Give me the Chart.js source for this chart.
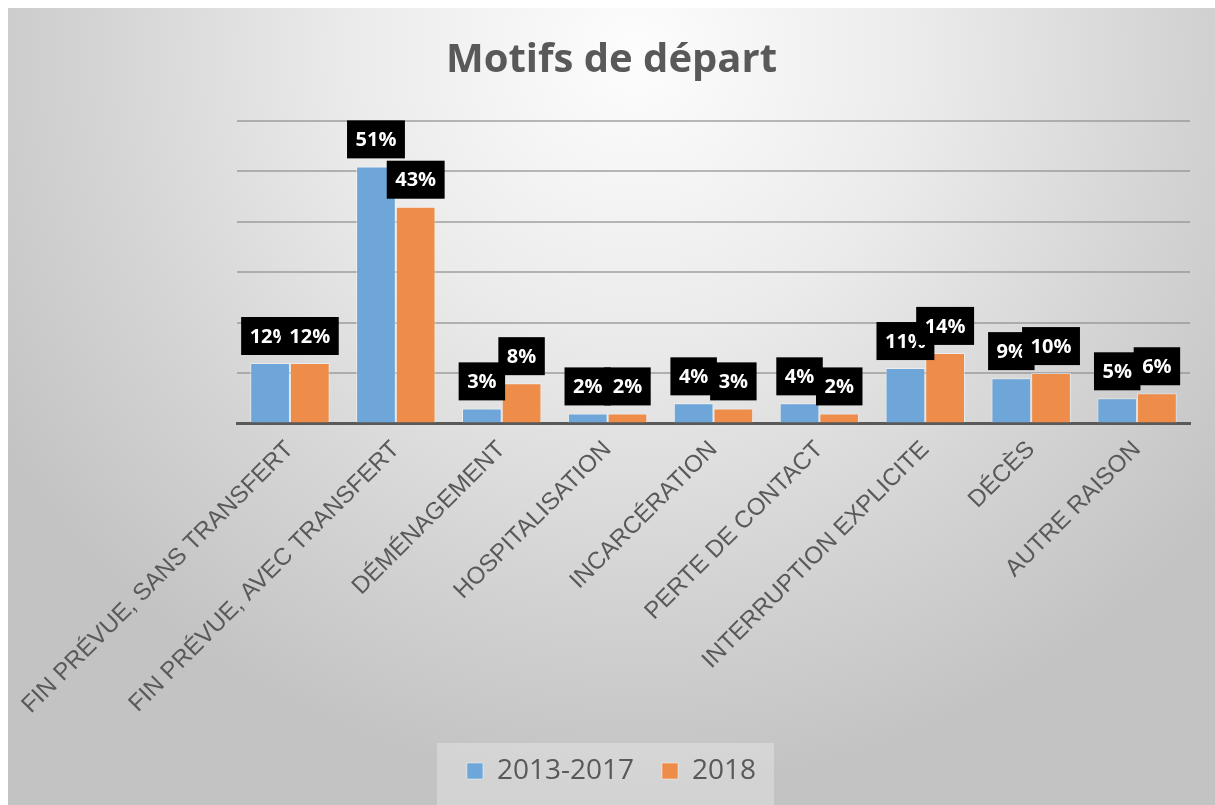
<!DOCTYPE html>
<html>
<head>
<meta charset="utf-8">
<script src="https://cdn.jsdelivr.net/npm/chart.js@4.4.1/dist/chart.umd.min.js"></script>
<style>
  html, body { margin: 0; padding: 0; background: #ffffff; }
  #wrap {
    position: absolute; left: 8px; top: 8px; width: 1207px; height: 797px;
    background: radial-gradient(ellipse 62% 92% at 52% 6%, #fdfdfd 0%, #ebebeb 38%, #d4d4d4 72%, #c3c3c3 100%);
  }
</style>
</head>
<body>
<div id="wrap"><canvas id="motifsChart" width="1207" height="797"></canvas></div>
<script>
// categories and values (percent)
var motifs = [
  'FIN PRÉVUE, SANS TRANSFERT',
  'FIN PRÉVUE, AVEC TRANSFERT',
  'DÉMÉNAGEMENT',
  'HOSPITALISATION',
  'INCARCÉRATION',
  'PERTE DE CONTACT',
  'INTERRUPTION EXPLICITE',
  'DÉCÈS',
  'AUTRE RAISON'
];
var periode20132017 = [12, 51, 3, 2, 4, 4, 11, 9, 5];
var annee2018 = [12, 43, 8, 2, 3, 2, 14, 10, 6];
var yTicks = [0, 10, 20, 30, 40, 50, 60];

// grey panel behind the legend
var legendBackground = {
  id: 'legendBackground',
  beforeDraw: function(chart) {
    var boxes = chart.legend.legendHitBoxes;
    if (!boxes || !boxes.length) return;
    var ctx = chart.ctx;
    var first = boxes[0], last = boxes[boxes.length - 1];
    var midY = first.top + first.height / 2;
    ctx.save();
    ctx.fillStyle = 'rgba(255,255,255,0.28)';
    ctx.fillRect(first.left - 30, midY - 28, (last.left + last.width) - first.left + 48, chart.height - midY + 28);
    ctx.restore();
  }
};

// black boxes with the percentages
var valueBoxes = {
  id: 'valueBoxes',
  afterDatasetsDraw: function(chart) {
    var ctx = chart.ctx;
    ctx.save();
    ctx.font = 'bold 20px "Open Sans"';
    ctx.textAlign = 'center';
    ctx.textBaseline = 'middle';
    chart.data.datasets.forEach(function(ds, i) {
      chart.getDatasetMeta(i).data.forEach(function(bar, j) {
        var txt = ds.data[j] + '%';
        var w = ctx.measureText(txt).width + 17;
        var h = 38;
        var bottom = bar.y - 8;
        ctx.fillStyle = '#000000';
        ctx.fillRect(bar.x - w / 2, bottom - h, w, h);
        ctx.fillStyle = '#ffffff';
        ctx.fillText(txt, bar.x, bottom - h / 2 + 1);
      });
    });
    ctx.restore();
  }
};

var motifsChart = new Chart(document.getElementById('motifsChart'), {
  type: 'bar',
  data: {
    labels: motifs,
    datasets: [{
      label: '2013-2017',
      data: periode20132017,
      backgroundColor: '#6fa6da',
      borderColor: 'rgba(255,255,255,0.45)',
      borderWidth: 1
    }, {
      label: '2018',
      data: annee2018,
      backgroundColor: '#ee8c49',
      borderColor: 'rgba(255,255,255,0.45)',
      borderWidth: 1
    }]
  },
  options: {
    responsive: false,
    animation: false,
    layout: {
      padding: { left: 0, right: 0, top: 0, bottom: 10 }
    },
    datasets: {
      bar: { categoryPercentage: 0.75, barPercentage: 1.0 }
    },
    plugins: {
      title: {
        display: true,
        text: 'Motifs de départ',
        color: '#595959',
        font: { family: '"Open Sans"', size: 40, weight: 'bold' },
        padding: { top: 29, bottom: 36 }
      },
      legend: {
        position: 'bottom',
        labels: {
          color: '#595959',
          font: { family: '"Open Sans"', size: 28 },
          boxWidth: 16,
          boxHeight: 16,
          padding: 28
        }
      },
      tooltip: { enabled: false }
    },
    scales: {
      x: {
        grid: { display: false },
        border: { display: true, color: '#595959', width: 3 },
        ticks: {
          color: '#595959',
          font: { family: '"Liberation Sans"', size: 24 },
          minRotation: 45,
          maxRotation: 45,
          padding: 4
        },
        afterFit: function(scale) {
          scale.height = 305.5;
          scale.paddingRight = 25; // room on the right of the plot
        }
      },
      y: {
        min: 0,
        max: 60,
        afterBuildTicks: function(scale) {
          scale.ticks = yTicks.map(function(v) { return { value: v }; });
        },
        ticks: { display: false },
        border: { display: false },
        grid: { color: 'rgba(140,140,140,0.6)', lineWidth: 2, drawTicks: false },
        afterFit: function(scale) { scale.width = 229; }
      }
    }
  },
  plugins: [legendBackground, valueBoxes]
});
</script>
</body>
</html>
